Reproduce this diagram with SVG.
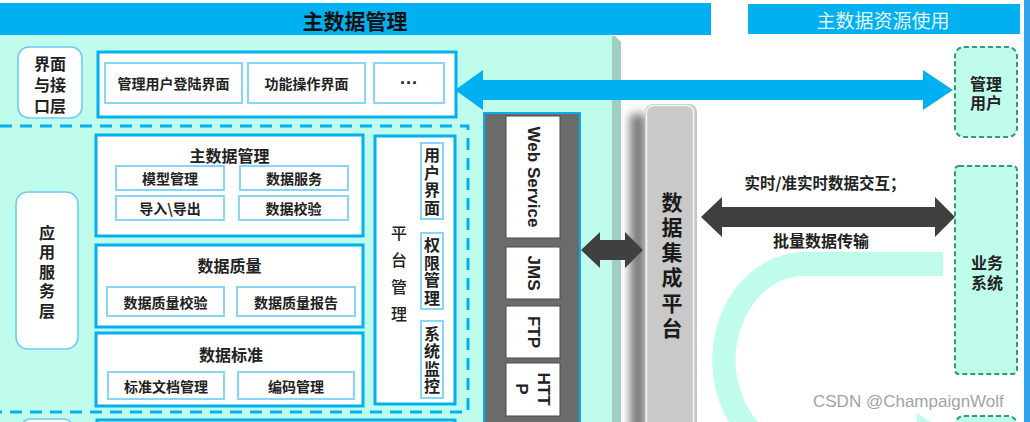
<svg xmlns="http://www.w3.org/2000/svg" width="1030" height="422" viewBox="0 0 1030 422">
<defs>
<style>
text{font-family:"Noto Sans CJK SC","Noto Sans",sans-serif;text-anchor:middle;dominant-baseline:central;fill:#222;}
.b{font-weight:bold;}
.s14{font-size:14px;}
.s16{font-size:16px;}
.vt{writing-mode:vertical-rl;}
.v16{font-size:16px;font-weight:bold;letter-spacing:1.5px;}
.lat{font-family:"Liberation Sans",Arial,sans-serif;font-weight:bold;font-size:17px;}
.box{fill:#fff;stroke:#00B0F0;stroke-width:3;}
.ibox{fill:#fff;stroke:#86D6F8;stroke-width:2;}
.rbox{fill:#fff;stroke:#6CCBF4;stroke-width:1.6;}
.wbox{fill:#fff;stroke:#4a4a4a;stroke-width:1;}
.gbox{fill:#BFFCEC;stroke:#2E9E72;stroke-width:2;stroke-dasharray:5 3;}
</style>
<filter id="blur" x="-50%" y="-10%" width="200%" height="120%"><feGaussianBlur stdDeviation="5"/></filter>
</defs>
<rect width="1030" height="422" fill="#fff"/>
<!-- header bars -->
<g id="header-left">
<rect x="0" y="3" width="711" height="32" fill="#00B0F0"/>
<text x="355" y="20" class="b" style="font-size:21px;fill:#111;">主数据管理</text>
</g>
<g id="header-right">
<rect x="748" y="4" width="272" height="30" fill="#00B0F0"/>
<text x="883" y="19" style="font-size:19px;fill:#E6F7FF;">主数据资源使用</text>
</g>
<rect x="1024" y="0" width="6" height="422" fill="#2FA3EE"/>
<!-- mint background -->
<rect x="0" y="35" width="612" height="387" fill="#BFFCEC"/>
<polygon points="612,36 615,36 621,42 621,422 612,422" fill="#9FCFC2"/>
<!-- dashed app layer boundary -->
<path d="M0,126 H468 V412 H0" fill="none" stroke="#00B0F0" stroke-width="3" stroke-dasharray="12 8"/>
<!-- partial boxes at bottom -->
<rect x="22" y="419" width="50" height="20" rx="8" class="rbox"/>
<rect x="97" y="420" width="358" height="20" class="box"/>
<!-- interface layer -->
<g id="ui-layer-label">
<rect x="18" y="47" width="64" height="71" rx="11" class="rbox"/>
<text class="b s16"><tspan x="50" y="63">界面</tspan><tspan x="50" y="84">与接</tspan><tspan x="50" y="105">口层</tspan></text>
</g>
<g id="ui-layer">
<rect x="98" y="52" width="358" height="65" class="box"/>
<rect x="105" y="63" width="137" height="40" class="ibox"/>
<text x="173.5" y="83" class="b s14">管理用户登陆界面</text>
<rect x="248" y="63" width="117" height="40" class="ibox"/>
<text x="306.5" y="83" class="b s14">功能操作界面</text>
<rect x="374" y="63" width="70" height="40" class="ibox"/>
<text x="409" y="83" class="b" style="font-family:'Liberation Sans',sans-serif;font-size:18px;">···</text>
</g>
<!-- app service layer -->
<g id="app-layer-label">
<rect x="16" y="192" width="62" height="157" rx="12" class="rbox"/>
<text x="47" y="273.5" class="b s16 vt" style="letter-spacing:3.5px;">应用服务层</text>
</g>
<g id="mdm">
<rect x="96" y="135" width="267" height="101" class="box"/>
<text x="229.5" y="155" class="b s16">主数据管理</text>
<rect x="116" y="166" width="108" height="24" class="ibox"/>
<text x="170" y="178" class="b s14">模型管理</text>
<rect x="240" y="166" width="108" height="24" class="ibox"/>
<text x="294" y="178" class="b s14">数据服务</text>
<rect x="116" y="196" width="108" height="24" class="ibox"/>
<text x="170" y="208" class="b s14">导入\导出</text>
<rect x="239" y="196" width="109" height="24" class="ibox"/>
<text x="293.5" y="208" class="b s14">数据校验</text>
</g>
<g id="dq">
<rect x="96" y="245" width="267" height="82" class="box"/>
<text x="229.5" y="265" class="b s16">数据质量</text>
<rect x="107" y="287" width="117" height="29" class="ibox"/>
<text x="165.5" y="301.5" class="b s14">数据质量校验</text>
<rect x="237" y="287" width="118" height="29" class="ibox"/>
<text x="296" y="301.5" class="b s14">数据质量报告</text>
</g>
<g id="ds">
<rect x="96" y="333" width="267" height="73" class="box"/>
<text x="231" y="354" class="b s16">数据标准</text>
<rect x="108" y="372" width="116" height="27" class="ibox"/>
<text x="166" y="385.5" class="b s14">标准文档管理</text>
<rect x="238" y="372" width="116" height="27" class="ibox"/>
<text x="296" y="385.5" class="b s14">编码管理</text>
</g>
<g id="platform">
<rect x="375" y="136" width="80" height="268" class="box"/>
<text x="399" y="279" class="s16 vt" style="font-weight:500;letter-spacing:11px;">平台管理</text>
<rect x="421" y="143" width="22" height="76" class="ibox"/>
<text x="432" y="182" class="v16 vt">用户界面</text>
<rect x="421" y="233" width="22" height="76" class="ibox"/>
<text x="432" y="272" class="v16 vt">权限管理</text>
<rect x="421" y="321" width="22" height="77" class="ibox"/>
<text x="432" y="360.5" class="v16 vt">系统监控</text>
</g>
<!-- protocol column -->
<g id="protocols">
<rect x="484" y="113" width="96" height="320" fill="#6B6B6B" stroke="#00B0F0" stroke-width="2"/>
<rect x="506" y="116" width="54" height="122" class="wbox"/>
<text class="lat" transform="translate(533,177) rotate(90)">Web Service</text>
<rect x="506" y="247" width="54" height="52" class="wbox"/>
<text class="lat" transform="translate(533,273) rotate(90)">JMS</text>
<rect x="506" y="306" width="54" height="52" class="wbox"/>
<text class="lat" transform="translate(533,332) rotate(90)">FTP</text>
<rect x="506" y="363" width="54" height="53" class="wbox"/>
<text class="lat" transform="translate(533,389) rotate(90)"><tspan x="0" y="-11">HTT</tspan><tspan x="0" y="11">P</tspan></text>
</g>
<!-- integration platform -->
<g id="integration">
<rect x="630" y="114" width="16" height="320" fill="#7a7a7a" filter="url(#blur)"/>
<rect x="645" y="104" width="52" height="330" rx="8" fill="#C9C9C9"/>
<rect x="646.5" y="105.5" width="47" height="330" rx="7" fill="none" stroke="#F4F4F4" stroke-width="1.5"/>
<text x="672" y="267" class="b vt" style="font-size:21px;fill:#1a1a1a;letter-spacing:4.2px;">数据集成平台</text>
</g>
<!-- mint U arrow -->
<path d="M943,252 H805 A93,108 0 0 0 729,422 L758,422 A69,84 0 0 1 805,276 H943 Z" fill="#BFFCEC"/>
<polygon points="917,413 931,422 917,422" fill="#BFFCEC"/>
<!-- right boxes -->
<g id="admin-user">
<rect x="955" y="47" width="62" height="90" rx="9" class="gbox"/>
<text class="b s16"><tspan x="986" y="83">管理</tspan><tspan x="986" y="102">用户</tspan></text>
</g>
<g id="biz-system">
<rect x="955" y="166" width="62" height="208" rx="4" class="gbox"/>
<text class="b s16"><tspan x="987" y="262">业务</tspan><tspan x="987" y="282">系统</tspan></text>
</g>
<rect x="955" y="416" width="62" height="30" rx="9" class="gbox"/>
<!-- connectors -->
<g id="connectors">
<polygon points="455,90 483,70 483,80 923,80 923,70 953,90 923,110 923,100 483,100 483,110" fill="#00B0F0"/>
<polygon points="581,250 600,232 600,240 625,240 625,232 643,250 625,268 625,260 600,260 600,268" fill="#404040"/>
<polygon points="701,217 722,197 722,207 935,207 935,197 955,217 935,237 935,227 722,227 722,237" fill="#3F3F3F"/>
<text x="825" y="182" class="b" style="font-size:15.5px;">实时/准实时数据交互；</text>
<text x="821" y="240" class="b s16">批量数据传输</text>
</g>
<text x="813" y="407" style="font-family:'Liberation Sans',Arial,sans-serif;font-size:17px;fill:#A3A3A3;text-anchor:start;dominant-baseline:auto;">CSDN @ChampaignWolf</text>
</svg>
